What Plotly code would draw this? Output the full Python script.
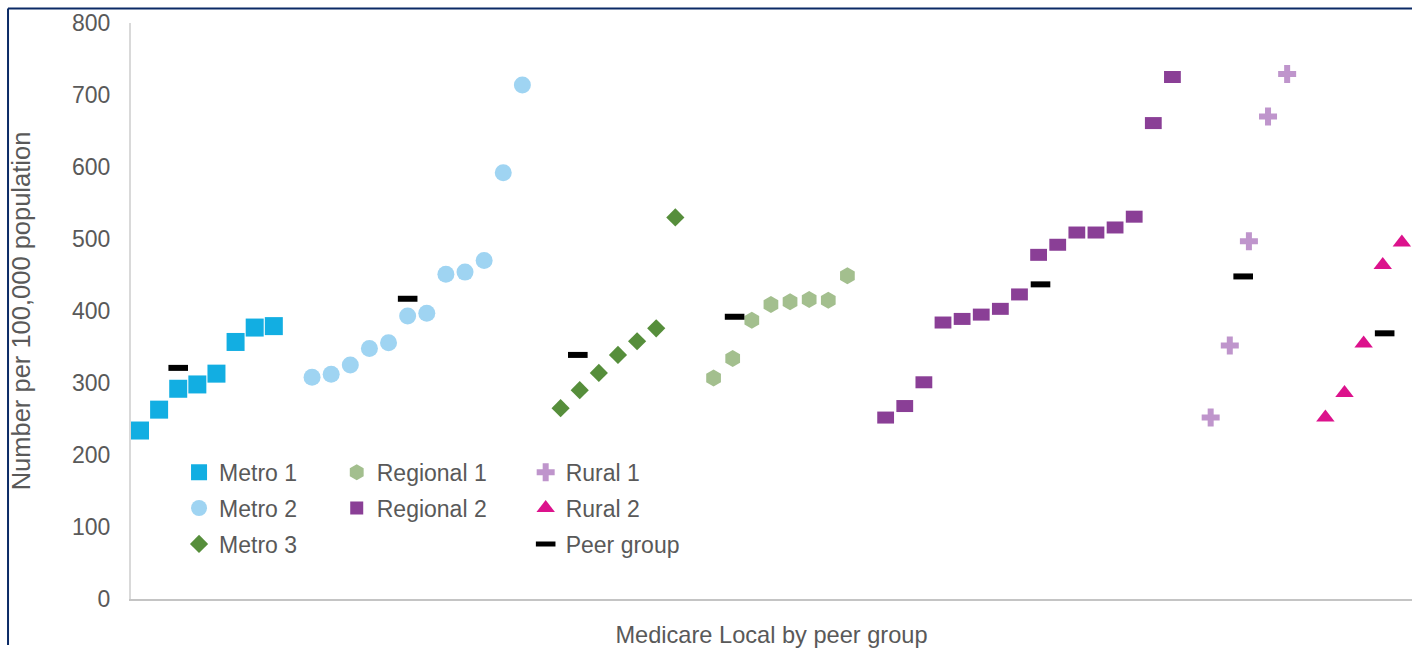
import plotly.graph_objects as go

# ---------------- data ----------------
metro1_x = list(range(0, 8))
metro1_y = [234, 263, 292, 298, 313, 357, 377, 379]

metro2_x = list(range(9, 21))
metro2_y = [308, 312, 325, 348, 356, 393, 397, 451, 454, 470, 592, 714]

metro3_x = list(range(22, 29))
metro3_y = [265, 290, 314, 339, 358, 376, 530]

regional1_x = list(range(30, 38))
regional1_y = [307, 334, 387, 409, 413, 416, 415, 449]

regional2_x = list(range(39, 55))
regional2_y = [252, 268, 301, 384, 389, 395, 403, 423, 478, 492, 509, 509, 516, 531, 661, 725]

rural1_x = list(range(56, 61))
rural1_y = [252, 352, 497, 670, 729]

rural2_x = list(range(62, 67))
rural2_y = [252, 286, 355, 464, 495]

peer_x = [2, 14, 22.9, 31.1, 47.1, 57.7, 65.1]
peer_y = [321, 417, 339, 392, 437, 448, 369]

y_ticks = [0, 100, 200, 300, 400, 500, 600, 700, 800]

# ---------------- styles ----------------
FONT = "Liberation Sans, Arial, sans-serif"
TXT = "#595959"
C_M1 = "#12AEE2"
C_M2 = "#9FD4F2"
C_M3 = "#568E3B"
C_R1 = "#A3BF8E"
C_RG2 = "#8A3F96"
C_RU1 = "#BF95CC"
C_RU2 = "#DC128C"

fig = go.Figure()

def add(x, y, name, marker, legend, group, showlegend=True):
    fig.add_trace(go.Scatter(
        x=x, y=y, mode="markers", name=name, marker=marker,
        legend=legend, legendgroup=group, showlegend=showlegend,
        cliponaxis=True))

add(metro1_x, metro1_y, "Metro 1", dict(symbol="square", size=18, color=C_M1), "legend", "m1")
add(metro2_x, metro2_y, "Metro 2", dict(symbol="circle", size=17, color=C_M2), "legend", "m2")
add(metro3_x, metro3_y, "Metro 3", dict(symbol="diamond", size=14, color=C_M3), "legend", "m3")
add(regional1_x, regional1_y, "Regional 1", dict(symbol="hexagon", size=17, color=C_R1), "legend2", "r1")
# Regional 2: wide rectangles drawn as thick horizontal line markers
add(regional2_x, regional2_y, "Regional 2",
    dict(symbol="line-ew", size=12, color=C_RG2, line=dict(width=12, color=C_RG2)),
    "legend2", "r2", showlegend=False)
add([None], [None], "Regional 2", dict(symbol="square", size=13, color=C_RG2), "legend2", "r2")
add(rural1_x, rural1_y, "Rural 1", dict(symbol="cross", size=15, color=C_RU1), "legend3", "u1")
add(rural2_x, rural2_y, "Rural 2", dict(symbol="triangle-up", size=16, color=C_RU2), "legend3", "u2")
add(peer_x, peer_y, "Peer group",
    dict(symbol="line-ew", size=14, color="black", line=dict(width=6, color="black")),
    "legend3", "pg")

legend_common = dict(
    font=dict(family=FONT, size=23, color=TXT),
    bgcolor="rgba(0,0,0,0)", borderwidth=0,
    orientation="v", xanchor="left", yanchor="top",
    tracegroupgap=3, traceorder="grouped", itemclick=False,
)

fig.update_layout(
    width=1412, height=648,
    margin=dict(l=131, r=0, t=23, b=45),
    paper_bgcolor="white", plot_bgcolor="white",
    font=dict(family=FONT, size=22, color=TXT),
    showlegend=True,
    legend=dict(x=0.0375, y=0.2575, **legend_common),
    legend2=dict(x=0.1606, y=0.2575, **legend_common),
    legend3=dict(x=0.3081, y=0.2575, **legend_common),
    xaxis=dict(
        range=[-0.47, 66.53], showticklabels=False, ticks="", showgrid=False,
        zeroline=False, showline=True, linecolor="#C4C4C4", linewidth=1.5,
        title=dict(text="Medicare Local by peer group", standoff=32,
                   font=dict(family=FONT, size=23.6, color=TXT)),
    ),
    yaxis=dict(
        range=[0, 800], tickvals=y_ticks, ticks="", showgrid=False,
        zeroline=False, showline=True, linecolor="#D9D9D9", linewidth=2,
        ticklabelstandoff=14, tickfont=dict(family=FONT, size=23, color=TXT),
        title=dict(text="Number per 100,000 population", standoff=34,
                   font=dict(family=FONT, size=25.5, color=TXT)),
    ),
    shapes=[
        dict(type="line", xref="paper", yref="paper", x0=-0.096, x1=-0.096,
             y0=1.025, y1=-0.08, line=dict(color="#0B2A66", width=2)),
        dict(type="line", xref="paper", yref="paper", x0=-0.096, x1=1.0,
             y0=1.025, y1=1.025, line=dict(color="#0B2A66", width=2)),
    ],
)

fig.write_html(
    "out.html",
    config={"displayModeBar": False},
    post_script="document.body.style.margin='0';"
                "document.documentElement.style.overflow='hidden';"
                "document.body.style.overflow='hidden';",
)
